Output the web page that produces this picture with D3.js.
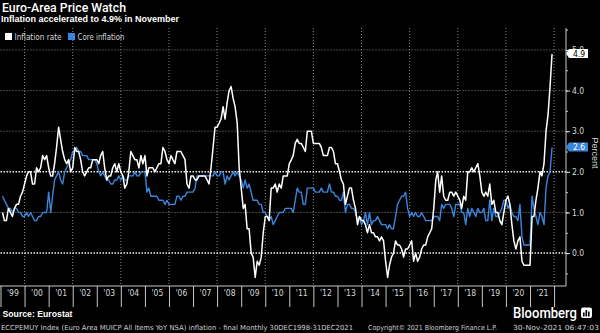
<!DOCTYPE html>
<html>
<head>
<meta charset="utf-8">
<script src="https://cdn.jsdelivr.net/npm/d3@7"></script>
<style>
body { margin: 0; background: #000; }
svg { display: block; font-family: "Liberation Sans", Arial, sans-serif; }
</style>
</head>
<body>
<script>
// monthly YoY %, Jan 1999 .. Nov 2021, one row per year
const inflation = [
    1.0, 0.8, 0.8, 1.1, 1.0, 0.9, 1.1, 1.2, 1.2, 1.4, 1.5, 1.7,
    1.9, 2.0, 2.0, 1.7, 1.7, 2.1, 2.0, 2.1, 2.4, 2.3, 2.4, 2.1,
    1.9, 1.9, 2.2, 2.6, 3.1, 2.8, 2.5, 2.3, 2.2, 2.3, 2.0, 2.1,
    2.6, 2.5, 2.5, 2.3, 2.0, 1.9, 2.0, 2.1, 2.1, 2.3, 2.3, 2.3,
    2.2, 2.4, 2.5, 2.1, 1.8, 1.9, 1.9, 2.1, 2.2, 2.0, 2.2, 2.0,
    1.9, 1.6, 1.7, 2.0, 2.5, 2.4, 2.3, 2.3, 2.1, 2.4, 2.2, 2.4,
    1.9, 2.1, 2.1, 2.1, 2.0, 2.1, 2.2, 2.2, 2.6, 2.5, 2.3, 2.2,
    2.4, 2.3, 2.2, 2.5, 2.5, 2.5, 2.4, 2.3, 1.7, 1.6, 1.9, 1.9,
    1.8, 1.8, 1.9, 1.9, 1.9, 1.9, 1.8, 1.7, 2.1, 2.6, 3.1, 3.1,
    3.2, 3.3, 3.6, 3.3, 3.7, 4.0, 4.1, 3.8, 3.6, 3.2, 2.1, 1.6,
    1.1, 1.2, 0.6, 0.6, 0.0, -0.1, -0.6, -0.2, -0.3, -0.1, 0.5, 0.9,
    0.9, 0.8, 1.6, 1.6, 1.7, 1.5, 1.7, 1.6, 1.9, 1.9, 1.9, 2.2,
    2.3, 2.4, 2.7, 2.8, 2.7, 2.7, 2.6, 2.5, 3.0, 3.0, 3.0, 2.7,
    2.7, 2.7, 2.7, 2.6, 2.4, 2.4, 2.4, 2.6, 2.6, 2.5, 2.2, 2.2,
    2.0, 1.8, 1.7, 1.2, 1.4, 1.6, 1.6, 1.3, 1.1, 0.7, 0.9, 0.8,
    0.8, 0.7, 0.5, 0.7, 0.5, 0.5, 0.4, 0.4, 0.3, 0.4, 0.3, -0.2,
    -0.6, -0.3, -0.1, 0.0, 0.3, 0.2, 0.2, 0.1, -0.1, 0.1, 0.1, 0.2,
    0.3, -0.2, 0.0, -0.2, -0.1, 0.1, 0.2, 0.2, 0.4, 0.5, 0.6, 1.1,
    1.8, 2.0, 1.5, 1.9, 1.4, 1.3, 1.3, 1.5, 1.5, 1.4, 1.5, 1.4,
    1.3, 1.1, 1.4, 1.3, 2.0, 2.0, 2.1, 2.0, 2.1, 2.2, 1.9, 1.5,
    1.4, 1.5, 1.4, 1.7, 1.2, 1.3, 1.0, 1.0, 0.8, 0.7, 1.0, 1.3,
    1.4, 1.2, 0.7, 0.3, 0.1, 0.3, 0.4, -0.2, -0.3, -0.3, -0.3, -0.3,
    0.9, 0.9, 1.3, 1.6, 2.0, 1.9, 2.2, 3.0, 3.4, 4.1, 4.9
]

const core = [
    1.4, 1.3, 1.2, 1.1, 1.1, 1.0, 1.1, 1.1, 1.0, 1.0, 0.9, 0.9,
    1.0, 0.9, 1.0, 0.9, 0.8, 0.8, 0.9, 0.9, 1.0, 1.0, 1.0, 1.5,
    1.0, 1.4, 1.8, 1.9, 2.0, 1.8, 1.7, 2.0, 2.1, 2.2, 2.3, 2.5,
    2.5, 2.6, 2.5, 2.5, 2.4, 2.4, 2.4, 2.3, 2.3, 2.3, 2.3, 2.2,
    2.0, 1.9, 2.0, 1.9, 1.8, 1.8, 1.7, 1.7, 1.8, 1.8, 1.9, 1.8,
    1.9, 1.8, 1.8, 1.9, 1.9, 1.9, 2.0, 1.9, 1.9, 2.0, 2.0, 2.0,
    1.5, 1.6, 1.4, 1.4, 1.4, 1.4, 1.3, 1.3, 1.3, 1.2, 1.3, 1.2,
    1.2, 1.2, 1.2, 1.4, 1.4, 1.3, 1.4, 1.4, 1.5, 1.5, 1.5, 1.5,
    1.6, 1.9, 1.9, 1.9, 1.9, 1.9, 1.9, 1.9, 1.9, 1.9, 2.0, 1.9,
    1.9, 2.0, 2.0, 1.7, 1.9, 1.8, 1.9, 2.0, 1.9, 2.0, 1.9, 1.8,
    1.6, 1.8, 1.6, 1.7, 1.5, 1.3, 1.3, 1.3, 1.2, 1.2, 1.0, 1.0,
    0.9, 0.8, 0.9, 0.7, 0.8, 0.9, 1.0, 1.0, 1.0, 1.1, 1.1, 1.1,
    1.1, 1.0, 1.3, 1.6, 1.5, 1.5, 1.2, 1.2, 1.6, 1.6, 1.6, 1.6,
    1.5, 1.5, 1.5, 1.6, 1.5, 1.5, 1.5, 1.7, 1.5, 1.5, 1.4, 1.4,
    1.3, 1.3, 1.5, 1.0, 1.2, 1.2, 1.1, 1.1, 1.0, 0.8, 0.9, 0.7,
    0.8, 1.0, 0.7, 1.0, 0.7, 0.8, 0.8, 0.9, 0.8, 0.7, 0.7, 0.7,
    0.6, 0.7, 0.6, 0.6, 0.9, 1.2, 1.3, 1.4, 1.4, 1.5, 1.1, 0.9,
    1.0, 0.9, 1.0, 0.9, 0.9, 1.0, 0.9, 0.8, 0.8, 0.8, 0.8, 0.9,
    0.9, 0.9, 0.8, 1.2, 1.1, 1.2, 1.2, 1.2, 1.1, 0.9, 1.2, 1.2,
    1.2, 1.0, 1.0, 0.7, 1.1, 0.9, 1.1, 1.0, 0.9, 1.1, 1.0, 1.0,
    1.1, 0.8, 0.8, 1.3, 0.8, 1.1, 0.9, 0.9, 1.0, 1.1, 1.3, 1.3,
    1.1, 1.2, 1.0, 0.9, 0.9, 0.8, 1.2, 0.4, 0.2, 0.2, 0.2, 0.2,
    1.4, 1.1, 0.9, 0.7, 1.0, 0.9, 0.7, 1.6, 1.9, 2.0, 2.6
]

const years = d3.range(1999, 2022)
const yearLabels = ["'99", "'00", "'01", "'02", "'03", "'04", "'05", "'06", "'07", "'08", "'09", "'10",
    "'11", "'12", "'13", "'14", "'15", "'16", "'17", "'18", "'19", "'20", "'21"]
const yTicks = [0, 1, 2, 3, 4, 5]
const gridYears = [2000, 2002, 2004, 2006, 2008, 2010, 2012, 2014, 2016, 2018, 2020, 2022]
const legendNames = ['Inflation rate', 'Core inflation']

const w = 600
const h = 333
const plotLeft = 0.5, plotRight = 566, plotTop = 28, plotBottom = 286
const white = '#ffffff'
const blue = '#3a86dc'
const smallFont = '"DejaVu Sans Condensed", "DejaVu Sans", sans-serif'

const svg = d3.select('body')
    .append('svg')
    .attr('width', w)
    .attr('height', h)

svg.append('rect').attr('width', w).attr('height', h).attr('fill', '#000')

// each monthly value is plotted at the end of its month
const toDate = i => new Date(1999, i + 1, 1)

const xScale = d3.scaleTime()
    .domain([new Date(1999, 0, 1), new Date(2022, 6, 1)])
    .range([plotLeft, plotRight])

const yScale = d3.scaleLinear()
    .domain([-0.81, 5.54])
    .range([plotBottom, plotTop])

// grid
svg.append('g')
    .selectAll('line')
    .data(gridYears)
    .enter()
    .append('line')
    .attr('x1', d => xScale(new Date(d, 0, 1)))
    .attr('x2', d => xScale(new Date(d, 0, 1)))
    .attr('y1', plotTop)
    .attr('y2', plotBottom)
    .attr('stroke', '#8a8a8a')
    .attr('stroke-width', 1)
    .attr('stroke-dasharray', '1,2')

svg.append('g')
    .selectAll('line')
    .data(yTicks)
    .enter()
    .append('line')
    .attr('x1', plotLeft)
    .attr('x2', plotRight)
    .attr('y1', d => yScale(d))
    .attr('y2', d => yScale(d))
    .attr('stroke', d => (d === 0 || d === 2) ? '#f0f0f0' : '#8a8a8a')
    .attr('stroke-width', d => (d === 0 || d === 2) ? 1.5 : 1)
    .attr('stroke-dasharray', d => (d === 0 || d === 2) ? '1.5,1.5' : '1,2')

// lines
const line = d3.line()
    .x((d, i) => xScale(toDate(i)))
    .y(d => yScale(d))

svg.append('path')
    .datum(core)
    .attr('d', line)
    .attr('fill', 'none')
    .attr('stroke', blue)
    .attr('stroke-width', 1.4)
    .attr('stroke-linejoin', 'round')

svg.append('path')
    .datum(inflation)
    .attr('d', line)
    .attr('fill', 'none')
    .attr('stroke', white)
    .attr('stroke-width', 1.5)
    .attr('stroke-linejoin', 'round')

// x axis
svg.append('line')
    .attr('x1', 0).attr('x2', plotRight)
    .attr('y1', plotBottom).attr('y2', plotBottom)
    .attr('stroke', '#c8c8c8')

const xTicks = d3.axisBottom(xScale)
    .tickValues(years.concat([2022]).map(y => new Date(y, 0, 1)))
    .tickSize(21)
    .tickFormat('')

svg.append('g')
    .attr('transform', 'translate(0,' + plotBottom + ')')
    .call(xTicks)
    .call(g => g.select('.domain').remove())
    .call(g => g.selectAll('line').attr('stroke', '#c8c8c8'))

const xLabels = d3.axisBottom(xScale)
    .tickValues(years.map(y => new Date(y, 6, 1)))
    .tickSize(0)
    .tickPadding(4)
    .tickFormat((d, i) => yearLabels[i])

svg.append('g')
    .attr('transform', 'translate(0,' + plotBottom + ')')
    .call(xLabels)
    .call(g => g.select('.domain').remove())
    .call(g => g.selectAll('text')
        .attr('fill', '#d8d8d8')
        .style('font-size', '8.5px')
        .style('font-family', smallFont))

// right axis
svg.append('line')
    .attr('x1', plotRight).attr('x2', plotRight)
    .attr('y1', plotTop).attr('y2', plotBottom)
    .attr('stroke', '#c8c8c8')

const minorAxis = d3.axisRight(yScale)
    .tickValues(d3.range(-0.5, 5.6, 0.5))
    .tickSize(2)
    .tickFormat('')

svg.append('g')
    .attr('transform', 'translate(' + plotRight + ',0)')
    .call(minorAxis)
    .call(g => g.select('.domain').remove())
    .call(g => g.selectAll('line').attr('stroke', '#c8c8c8'))

const yAxis = d3.axisRight(yScale)
    .tickValues(yTicks)
    .tickSize(4)
    .tickPadding(2)
    .tickFormat(d3.format('.1f'))

svg.append('g')
    .attr('transform', 'translate(' + plotRight + ',0)')
    .call(yAxis)
    .call(g => g.select('.domain').remove())
    .call(g => g.selectAll('line').attr('stroke', '#e0e0e0'))
    .call(g => g.selectAll('text')
        .attr('fill', '#d8d8d8')
        .style('font-size', '8.5px')
        .style('font-family', smallFont))

svg.append('text')
    .attr('transform', 'translate(592,153) rotate(90)')
    .attr('text-anchor', 'middle')
    .attr('fill', '#d8d8d8')
    .style('font-size', '9px')
    .text('Percent')

// last value tags
const tags = [
    {v: inflation[inflation.length - 1], bg: white, fg: '#000'},
    {v: core[core.length - 1], bg: blue, fg: '#fff'}
]
tags.forEach(t => {
    const y = yScale(t.v) - 0.5
    const x = plotRight
    svg.append('path')
        .attr('d', `M${x},${y} L${x + 3},${y - 4.5} L${x + 22},${y - 4.5} L${x + 22},${y + 4.5} L${x + 3},${y + 4.5} Z`)
        .attr('fill', t.bg)
    svg.append('text')
        .attr('x', x + 13)
        .attr('y', y + 3)
        .attr('text-anchor', 'middle')
        .attr('fill', t.fg)
        .style('font-size', '8.5px')
        .style('font-family', smallFont)
        .text(d3.format('.1f')(t.v))
})

// titles
svg.append('text')
    .attr('x', 2).attr('y', 12)
    .attr('fill', '#fff')
    .style('font-size', '13px')
    .style('font-family', 'Roboto, sans-serif')
    .style('font-weight', 500)
    .attr('textLength', 124)
    .attr('lengthAdjust', 'spacingAndGlyphs')
    .text('Euro-Area Price Watch')

svg.append('text')
    .attr('x', 1).attr('y', 21.5)
    .attr('fill', '#fff')
    .style('font-size', '9px')
    .style('font-weight', 'bold')
    .attr('textLength', 178)
    .attr('lengthAdjust', 'spacingAndGlyphs')
    .text('Inflation accelerated to 4.9% in November')

// legend
const legendX = [5, 68]
const legend = svg.append('g')
legendNames.forEach((name, i) => {
    legend.append('rect')
        .attr('x', legendX[i]).attr('y', 33)
        .attr('width', 7).attr('height', 7)
        .attr('fill', i === 0 ? white : blue)
    legend.append('text')
        .attr('x', legendX[i] + 9.5).attr('y', 40)
        .attr('fill', '#d8d8d8')
        .style('font-size', '8.5px')
        .style('font-family', smallFont)
        .attr('textLength', 47)
        .attr('lengthAdjust', 'spacingAndGlyphs')
        .text(name)
})

// footer
svg.append('text')
    .attr('x', 2.5).attr('y', 317)
    .attr('fill', '#fff')
    .style('font-size', '9px')
    .style('font-weight', 'bold')
    .attr('textLength', 70)
    .attr('lengthAdjust', 'spacingAndGlyphs')
    .text('Source: Eurostat')

svg.append('text')
    .attr('x', 513).attr('y', 317.5)
    .attr('fill', '#fff')
    .style('font-size', '14px')
    .style('font-family', 'Roboto, sans-serif')
    .style('font-weight', 500)
    .attr('textLength', 64)
    .attr('lengthAdjust', 'spacingAndGlyphs')
    .text('Bloomberg')

const logo = svg.append('g').attr('transform', 'translate(581,307.5)')
logo.append('rect').attr('width', 11).attr('height', 10.5).attr('rx', 2).attr('fill', '#fff')
;[[2, 5, 4], [4.5, 2.5, 6.5], [7, 4, 5]].forEach(b => {
    logo.append('rect').attr('x', b[0]).attr('y', b[1]).attr('width', 1.6).attr('height', b[2]).attr('fill', '#000')
})

const footStyle = sel => sel
    .attr('fill', '#d0d0d0')
    .style('font-size', '7px')
    .style('font-family', smallFont)
    .attr('lengthAdjust', 'spacingAndGlyphs')

svg.append('text').attr('x', 1).attr('y', 330).attr('textLength', 352)
    .call(footStyle)
    .text('ECCPEMUY Index (Euro Area MUICP All Items YoY NSA) inflation - final  Monthly 30DEC1998-31DEC2021')
svg.append('text').attr('x', 368).attr('y', 330).attr('textLength', 129)
    .call(footStyle)
    .text('Copyright\u00a9 2021 Bloomberg Finance L.P.')
svg.append('text').attr('x', 513).attr('y', 330).attr('textLength', 86)
    .call(footStyle)
    .text('30-Nov-2021 06:47:03')
</script>
</body>
</html>
